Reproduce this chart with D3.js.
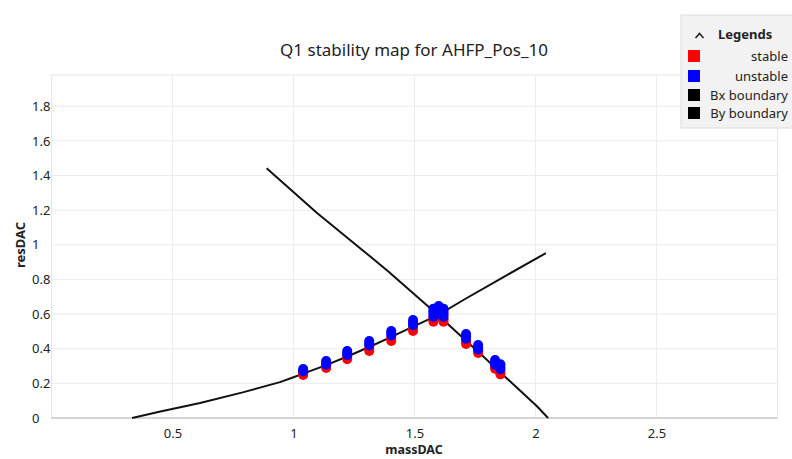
<!DOCTYPE html>
<html>
<head>
<meta charset="utf-8">
<script src="https://cdn.jsdelivr.net/npm/d3@7"></script>
<style>
body { margin: 0; background: #fff; }
svg { display: block; font-family: "Segoe UI", "Noto Sans", sans-serif; }
</style>
</head>
<body>
<svg id="chart" width="792" height="459"></svg>
<script>
var chartTitle = "Q1 stability map for AHFP_Pos_10";
var xTicks = [0.5, 1, 1.5, 2, 2.5];
var yTicks = [0, 0.2, 0.4, 0.6, 0.8, 1, 1.2, 1.4, 1.6, 1.8];

// boundary curves
var bxBoundary = [[0.333, 0.0], [0.45, 0.038], [0.614, 0.087], [0.79, 0.148], [0.944, 0.207],
    [1.0, 0.235], [1.04, 0.256], [1.135, 0.305], [1.222, 0.355], [1.313, 0.41], [1.404, 0.468],
    [1.494, 0.528], [1.597, 0.594], [1.709, 0.687], [1.882, 0.825], [2.043, 0.952]];
var byBoundary = [[0.889, 1.441], [1.096, 1.185], [1.288, 0.966], [1.392, 0.846],
    [1.597, 0.594], [1.713, 0.446], [1.771, 0.372], [1.882, 0.228], [2.006, 0.068], [2.052, 0.0]];

var stablePts = [
    [1.04, 0.262], [1.04, 0.255], [1.04, 0.248],
    [1.135, 0.300], [1.135, 0.289],
    [1.222, 0.352], [1.222, 0.340],
    [1.313, 0.400], [1.313, 0.387],
    [1.404, 0.458], [1.404, 0.444],
    [1.494, 0.516], [1.494, 0.502],
    [1.578, 0.570], [1.578, 0.556], [1.60, 0.585], [1.62, 0.570], [1.62, 0.556],
    [1.713, 0.440], [1.713, 0.427],
    [1.763, 0.386], [1.763, 0.375],
    [1.833, 0.296], [1.833, 0.285],
    [1.855, 0.264], [1.855, 0.252]
];
var unstablePts = [
    [1.04, 0.283], [1.04, 0.276], [1.04, 0.268],
    [1.135, 0.329], [1.135, 0.318], [1.135, 0.307],
    [1.222, 0.387], [1.222, 0.375], [1.222, 0.363],
    [1.313, 0.444], [1.313, 0.432], [1.313, 0.418],
    [1.404, 0.502], [1.404, 0.489], [1.404, 0.476],
    [1.494, 0.565], [1.494, 0.551], [1.494, 0.536],
    [1.578, 0.630], [1.578, 0.615], [1.578, 0.600], [1.578, 0.585],
    [1.60, 0.646], [1.60, 0.630], [1.60, 0.615], [1.60, 0.600],
    [1.62, 0.630], [1.62, 0.615], [1.62, 0.600], [1.62, 0.585],
    [1.713, 0.485], [1.713, 0.472], [1.713, 0.458],
    [1.763, 0.421], [1.763, 0.408], [1.763, 0.395],
    [1.833, 0.335], [1.833, 0.322], [1.833, 0.308],
    [1.855, 0.310], [1.855, 0.296], [1.855, 0.282]
];
var legendLabels = ["stable", "unstable", "Bx boundary", "By boundary"];
var legendColors = ["#ff0000", "#0000ff", "#000000", "#000000"];

var svg = d3.select("#chart");
var plotL = 51.5, plotR = 777.5, plotT = 75, plotB = 418;

var x = d3.scaleLinear().domain([0, 3]).range([plotL, plotR]);
var y = d3.scaleLinear().domain([0, 1.98]).range([plotB, plotT]);

// grid
svg.append("g").selectAll("line").data(yTicks).enter().append("line")
    .attr("x1", plotL).attr("x2", plotR)
    .attr("y1", function(d){ return y(d); }).attr("y2", function(d){ return y(d); })
    .style("stroke", "#ececec").style("stroke-width", 1);
svg.append("g").selectAll("line").data(xTicks).enter().append("line")
    .attr("x1", function(d){ return x(d); }).attr("x2", function(d){ return x(d); })
    .attr("y1", plotT).attr("y2", plotB)
    .style("stroke", "#ececec").style("stroke-width", 1);

svg.append("rect")
    .attr("x", plotL).attr("y", plotT).attr("width", plotR - plotL).attr("height", plotB - plotT)
    .style("fill", "none").style("stroke", "#e6e6e6");
svg.append("line")
    .attr("x1", plotL).attr("x2", plotR).attr("y1", plotB).attr("y2", plotB)
    .style("stroke", "#d4d4d4").style("stroke-width", 2);

// axes
var xAxis = svg.append("g")
    .attr("transform", "translate(0," + plotB + ")")
    .call(d3.axisBottom(x).tickValues(xTicks).tickSize(0).tickPadding(11).tickFormat(d3.format("")));
xAxis.select(".domain").remove();
xAxis.selectAll("text").style("font-size", "13px").style("fill", "#222")
    .style("font-family", "\"Segoe UI\", \"Noto Sans\", sans-serif");

var yAxis = svg.append("g")
    .attr("transform", "translate(" + plotL + ",0)")
    .call(d3.axisLeft(y).tickValues(yTicks).tickSize(0).tickFormat(d3.format("")));
yAxis.select(".domain").remove();
yAxis.selectAll("text")
    .attr("x", 32 - plotL).attr("text-anchor", "start")
    .style("font-size", "13px").style("fill", "#222")
    .style("font-family", "\"Segoe UI\", \"Noto Sans\", sans-serif");

// boundaries
var line = d3.line()
    .x(function(d){ return x(d[0]); })
    .y(function(d){ return y(d[1]); });

[bxBoundary, byBoundary].forEach(function(b){
    svg.append("path")
        .attr("d", line(b))
        .style("fill", "none")
        .style("stroke", "#111")
        .style("stroke-width", 2)
        .style("stroke-linejoin", "round");
});

// points
svg.append("g").selectAll("circle").data(stablePts).enter().append("circle")
    .attr("cx", function(d){ return x(d[0]); })
    .attr("cy", function(d){ return y(d[1]); })
    .attr("r", 5)
    .style("fill", "#ff0000");
svg.append("g").selectAll("circle").data(unstablePts).enter().append("circle")
    .attr("cx", function(d){ return x(d[0]); })
    .attr("cy", function(d){ return y(d[1]); })
    .attr("r", 5)
    .style("fill", "#0000ff");

// titles
svg.append("text")
    .attr("x", 414).attr("y", 56)
    .attr("text-anchor", "middle")
    .style("font-size", "17px").style("fill", "#222")
    .text(chartTitle);
svg.append("text")
    .attr("x", 414).attr("y", 454)
    .attr("text-anchor", "middle")
    .style("font-size", "12.5px").style("font-weight", "bold").style("fill", "#222")
    .text("massDAC");
svg.append("text")
    .attr("transform", "translate(25,245) rotate(-90)")
    .attr("text-anchor", "middle")
    .style("font-size", "13px").style("font-weight", "bold").style("fill", "#222")
    .text("resDAC");

// legend
var lg = svg.append("g");
lg.append("rect")
    .attr("x", 681).attr("y", 15).attr("width", 120).attr("height", 113)
    .style("fill", "#f2f2f2").style("stroke", "#dcdcdc");
lg.append("path")
    .attr("d", "M695.5,38 L699.5,33.5 L703.5,38")
    .style("fill", "none").style("stroke", "#222").style("stroke-width", 1.6);
lg.append("text")
    .attr("x", 718).attr("y", 39)
    .style("font-size", "13px").style("font-weight", "bold").style("fill", "#222")
    .text("Legends");
var items = lg.selectAll("g.item").data(legendLabels).enter().append("g")
    .attr("class", "item")
    .attr("transform", function(d, i){ return "translate(0," + [56, 76, 95, 113][i] + ")"; });
items.append("rect")
    .attr("x", 688).attr("y", -6).attr("width", 12).attr("height", 12)
    .style("fill", function(d, i){ return legendColors[i]; });
items.append("text")
    .attr("x", 788).attr("y", 5)
    .attr("text-anchor", "end")
    .style("font-size", "13px").style("fill", "#222")
    .text(function(d){ return d; });
</script>
</body>
</html>
